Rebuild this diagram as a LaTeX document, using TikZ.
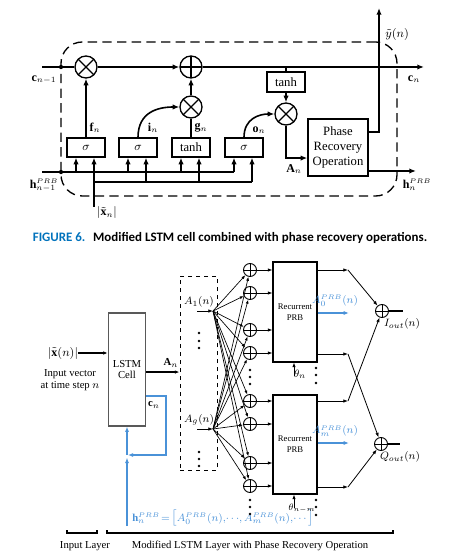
\documentclass[tikz,border=0pt]{standalone}
\usepackage{fontspec}
\setmainfont{Liberation Serif}
\newfontfamily\capfont{Carlito}
\usetikzlibrary{arrows.meta,calc}
\definecolor{figblue}{RGB}{0,114,188}
\definecolor{lblue}{RGB}{74,146,216}
\newcommand{\prbsup}{{\scriptscriptstyle PRB}}
\tikzset{
  tl/.style={line width=1.2pt},
  ta/.style={line width=1.2pt,-{Latex[length=5pt,width=4pt]}},
  gate/.style={draw,line width=1pt,minimum width=28.5pt,minimum height=14.25pt,inner sep=0pt,font=\fontsize{9.5}{10}\selectfont},
  mult/.style={circle,draw,line width=1pt,minimum size=16.5pt,inner sep=0pt,
    path picture={\draw[line width=1pt] (path picture bounding box.center) ++(45:8.25pt) -- ++(225:16.5pt)
       (path picture bounding box.center) ++(135:8.25pt) -- ++(-45:16.5pt);}},
  addc/.style={circle,draw,line width=1pt,minimum size=16.5pt,inner sep=0pt,
    path picture={\draw[line width=1pt] (path picture bounding box.north) -- (path picture bounding box.south)
       (path picture bounding box.west) -- (path picture bounding box.east);}},
  addsm/.style={circle,draw,line width=0.7pt,minimum size=9.75pt,inner sep=0pt,
    path picture={\draw[line width=0.7pt] (path picture bounding box.north) -- (path picture bounding box.south)
       (path picture bounding box.west) -- (path picture bounding box.east);}},
  lab/.style={inner sep=0pt,font=\fontsize{9}{10}\selectfont},
  slab/.style={inner sep=0pt,font=\fontsize{8}{9}\selectfont},
  bl/.style={line width=0.6pt},
  ba/.style={line width=0.6pt,-{Latex[length=3.5pt,width=2.6pt]}},
  fan/.style={line width=0.5pt,-{Latex[length=3pt,width=2.2pt]}},
  blu/.style={draw=lblue,line width=1.1pt},
  blua/.style={draw=lblue,line width=1.1pt,-{Latex[length=4pt,width=3pt]}},
}
\begin{document}
\begin{tikzpicture}[x=0.75pt,y=-0.75pt]
\useasboundingbox (0,0) rectangle (462,559);
% ================= TOP: modified LSTM cell =================
\node[draw,dashed,dash pattern=on 7pt off 4pt,line width=1pt,rounded corners=16pt,
      minimum width=252pt,minimum height=115.5pt] (cell) at (229,119) {};
\node[gate] (sig1) at (86,147.5) {$\sigma$};
\node[gate] (sig2) at (138,147.5) {$\sigma$};
\node[gate] (tanh1) at (191,147.5) {tanh};
\node[gate] (sig3) at (244,147.5) {$\sigma$};
\node[gate,minimum height=15pt] (tanh2) at (286,82) {tanh};
\node[mult] (m1) at (86,67) {};
\node[addc] (p1) at (191,67) {};
\node[mult] (m2) at (191,107) {};
\node[mult] (m3) at (286,114) {};
\node[draw,line width=1pt,minimum width=45pt,minimum height=42.75pt,align=center,
      font=\fontsize{9.5}{11.25}\selectfont] (pro) at (338,147.5) {Phase\\Recovery\\Operation};
\coordinate (cin) at (42,67);
\coordinate (cdot) at (61,67);
\coordinate (ctap) at (286,67);
\coordinate (cout) at (424,67);
\coordinate (hin) at (42,172);
\coordinate (hdot) at (61,172);
\coordinate (xin) at (94,207);
\coordinate (xc) at (94,182);
\coordinate (yout) at (379,8);
\coordinate (hout) at (416,171);
\draw[tl] (cin) -- (m1);
\draw[ta] (m1) -- (p1);
\draw[ta] (p1) -- (cout);
\draw[ta] (sig1) -- (m1);
\draw[tl] (tanh1) -- (m2);
\draw[ta] (m2) -- (p1);
\draw[ta] (sig2.north) .. controls (138,112) and (158,107) .. (m2.west);
\draw[ta] (sig3.north) .. controls (244,118) and (260,114) .. (m3.west);
\draw[tl] (ctap) -- (tanh2.north);
\draw[ta] (tanh2) -- (m3);
\draw[ta] (m3.south) |- ([yshift=-7.9pt]pro.west);
\draw[ta] ([yshift=11.6pt]pro.east) -| (yout);
\draw[ta] ([yshift=-17.6pt]pro.east) -- (hout);
\draw[tl] (hin) -- ([xshift=-7.5pt]sig3.south |- hin);
\draw[tl] (xc) -- ([xshift=6pt]sig3.south |- xc);
\draw[ta] (xin) -- ([xshift=6pt]sig1.south);
\foreach \g in {sig1,sig2,tanh1,sig3}{
  \draw[ta] ([xshift=-7.5pt]\g.south |- hin) -- ([xshift=-7.5pt]\g.south);
}
\foreach \g in {sig2,tanh1,sig3}{
  \draw[ta] ([xshift=6pt]\g.south |- xc) -- ([xshift=6pt]\g.south);
}
\fill (cdot) circle (1.6pt);
\fill (hdot) circle (1.6pt);
% labels
\node[lab] (lc1) at (44,80) {$\mathbf{c}_{n-1}$};
\node[lab] (lh1) at (44,185) {$\mathbf{h}_{n-1}^{\prbsup}$};
\node[lab] (lf) at (95,128) {$\mathbf{f}_n$};
\node[lab] (li) at (153,128) {$\mathbf{i}_n$};
\node[lab] (lg) at (201,128) {$\mathbf{g}_n$};
\node[lab] (lo) at (259,130) {$\mathbf{o}_n$};
\node[lab] (la) at (294,169) {$\mathbf{A}_n$};
\node[lab] (lx) at (107,213) {$\left|\tilde{\mathbf{x}}_n\right|$};
\node[lab,anchor=west] (ly) at (385,35) {$\tilde{y}(n)$};
\node[lab] (lcn) at (414,79) {$\mathbf{c}_n$};
\node[lab] (lhn) at (417,185) {$\mathbf{h}_n^{\prbsup}$};
% caption
\node[inner sep=0pt,font=\capfont\bfseries\fontsize{9.7}{11}\selectfont] (cap) at (230,238)
  {\textcolor{figblue}{FIGURE 6.}\hspace{0.6em}Modified LSTM cell combined with phase recovery operations.};
% ================= BOTTOM: layer =================
\node[draw=black!65,line width=0.8pt,minimum width=27.75pt,minimum height=84.75pt,align=center,
      font=\fontsize{8}{8.5}\selectfont] (lstm) at (127,369.5) {LSTM\\Cell};
\node[lab] (xin2) at (63,353) {$\left|\tilde{\mathbf{x}}(n)\right|$};
\draw[ba,line width=1pt] (xin2) -- (lstm.west |- xin2);
\node[slab,align=center] (ivec) at (70,380) {Input vector\\at time step $n$};
\node[draw,dashed,line width=0.7pt,minimum width=27.75pt,minimum height=145.5pt] (dbox) at (198.5,373) {};
\draw[ba,line width=1pt] ([yshift=-1.9pt]lstm.east) -- ([yshift=-1.9pt]lstm.east -| dbox.west);
\node[slab] (lan) at (171,363) {$\mathbf{A}_n$};
% blue feedback
\coordinate (bl1) at (166,455);
\coordinate (bj) at (127,455);
\coordinate (hb) at (127,526);
\draw[blua] ([yshift=-20pt]lstm.east) -| (bl1) -- ([xshift=0.6pt]bj);
\draw[blua] (hb) -- ([yshift=-2pt]bj);
\draw[blua] (bj) -- (lstm.south);
\node[slab] (lcn2) at (154,405) {$\mathbf{c}_n$};
\node[slab,anchor=west,text=lblue] (hlab) at (132,518)
  {$\mathbf{h}_n^{\prbsup}\!=\!\big[A_0^{\prbsup}(n),\!\cdots\!,A_m^{\prbsup}(n),\!\cdots\big]$};
% A nodes
\coordinate (a1) at (213,311);
\coordinate (a1s) at (197,311);
\coordinate (ag) at (213,429);
\coordinate (ags) at (197,429);
\draw[ba] (a1s) -- (a1);
\draw[ba] (ags) -- (ag);
\node[slab] (la1) at (199,302) {$A_1(n)$};
\node[slab] (lag) at (199,420) {$A_g(n)$};
\foreach \y in {333,341,348,452,459,466} \fill (199,\y) circle (1pt);
% adders
\foreach \i/\y in {1/270,2/293,3/330,4/353,5/401,6/424,7/463,8/486}
  \node[addsm] (q\i) at (250,\y) {};
\foreach \y in {370,377,384,500,507,514} \fill (250,\y) circle (1pt);
\node[draw,line width=0.8pt,minimum width=33pt,minimum height=75pt,align=center,
      font=\fontsize{6.5}{8}\selectfont] (prb1) at (295,312) {Recurrent\\PRB};
\node[draw,line width=0.8pt,minimum width=33pt,minimum height=74.25pt,align=center,
      font=\fontsize{6.5}{8}\selectfont] (prb2) at (295,444.5) {Recurrent\\PRB};
\foreach \i in {1,...,8}{
  \draw[fan] (a1) -- (q\i);
  \draw[fan] (ag) -- (q\i);
}
\foreach \i in {1,...,4} \draw[ba] (q\i) -- (q\i -| prb1.west);
\foreach \i in {5,...,8} \draw[ba] (q\i) -- (q\i -| prb2.west);
% thetas
\coordinate (t1) at (294,376);
\coordinate (t2) at (294,508);
\draw[ba] (t1) -- (t1 |- prb1.south);
\draw[ba] (t2) -- (t2 |- prb2.south);
\node[slab] (lt1) at (300,374) {$\theta_n$};
\node[slab,font=\fontsize{7.5}{8}\selectfont] (lt2) at (302,508) {$\theta_{n-m}$};
\foreach \y in {368,375,383,500,507,515} \fill (316,\y) circle (1pt);
% outputs
\node[addsm] (iout) at (382,311) {};
\node[addsm] (qout) at (381,444) {};
\coordinate (o1) at (348,270);
\coordinate (o2) at (348,354);
\coordinate (o3) at (348,401);
\coordinate (o4) at (348,487);
\draw[ba] (prb1.east |- o1) -- (o1);
\draw[ba] (o1) -- (iout);
\draw[ba] (prb1.east |- o2) -- (o2);
\draw[ba] (o2) -- (qout);
\draw[ba] (prb2.east |- o3) -- (o3);
\draw[ba] (o3) -- (iout);
\draw[ba] (prb2.east |- o4) -- (o4);
\draw[ba] (o4) -- (qout);
\coordinate (ie) at (403,311);
\coordinate (qe) at (400,444);
\draw[bl,line width=0.9pt] (iout) -- (ie);
\draw[bl,line width=0.9pt] (qout) -- (qe);
\node[slab] (liout) at (402,324) {$I_{out}(n)$};
\node[slab] (lqout) at (400,457) {$Q_{out}(n)$};
\coordinate (b1) at (349,313);
\coordinate (b2) at (349,443);
\draw[blua] (prb1.east |- b1) -- (b1);
\draw[blua] (prb2.east |- b2) -- (b2);
\node[slab,text=lblue] (lb1) at (335,301) {$A_0^{\prbsup}(n)$};
\node[slab,text=lblue] (lb2) at (335,431) {$A_m^{\prbsup}(n)$};
% layer brackets
\draw[line width=0.8pt] (67,530) -- (67,533) -- (97,533) -- (97,530);
\draw[line width=0.8pt] (107,530) -- (107,533) -- (393,533) -- (393,530);
\node[slab] (lil) at (85,546) {Input Layer};
\node[slab] (lml) at (250,546) {Modified LSTM Layer with Phase Recovery Operation};
\end{tikzpicture}
\end{document}
